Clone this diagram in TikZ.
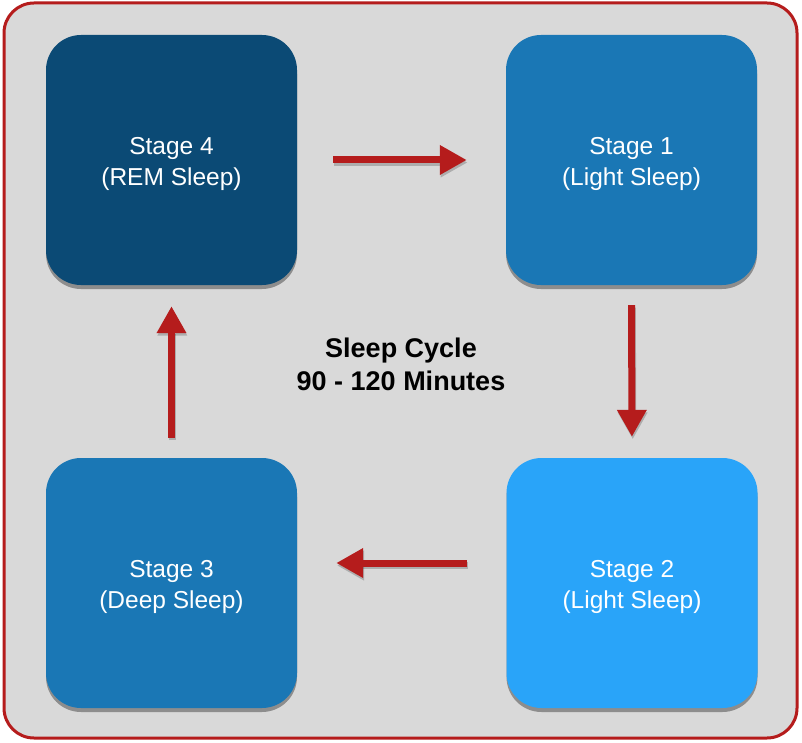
\documentclass[tikz,border=0pt]{standalone}
\usepackage{fontspec}
\setmainfont{Liberation Sans}
\usetikzlibrary{shadows,arrows.meta}
\definecolor{framered}{HTML}{B51C1C}
\definecolor{bggray}{HTML}{D9D9D9}
\definecolor{darkblue}{HTML}{0B4A75}
\definecolor{midblue}{HTML}{1A77B5}
\definecolor{lightblue}{HTML}{29A4F9}
\definecolor{arrowred}{HTML}{B51C1C}
\newcommand{\stagetext}[2]{\raisebox{-4pt}[\height][\depth]{\parbox{220pt}{\centering #1\\#2}}}
\tikzset{
  stagebox/.style={rectangle, rounded corners=35pt, minimum width=251pt, minimum height=250pt,
    text=white, inner sep=0pt,
    font=\fontsize{24.5}{31}\selectfont,
    drop shadow={shadow xshift=0pt, shadow yshift=-4pt, opacity=0.35, fill=black}},
  cyclearrow/.style={line width=7pt, arrowred, -{Triangle[length=27pt,width=28pt]}},
  arrowshadow/.style={line width=7pt, black, opacity=0.2, -{Triangle[length=27pt,width=28pt]},
    transform canvas={shift={(0.8pt,-2.5pt)}}},
}
\begin{document}
\begin{tikzpicture}[x=1pt,y=-1pt]
\useasboundingbox (0,0) rectangle (802,743);
\fill[white] (0,0) rectangle (802,743);
\draw[framered, line width=3pt, fill=bggray, rounded corners=30pt] (4,3) rectangle (797,738);

\node[stagebox, fill=darkblue] (s4) at (171.5,160) {\stagetext{Stage 4}{(REM Sleep)}};
\node[stagebox, fill=midblue] (s1) at (631.5,160) {\stagetext{Stage 1}{(Light Sleep)}};
\node[stagebox, fill=lightblue] (s2) at (632,583) {\stagetext{Stage 2}{(Light Sleep)}};
\node[stagebox, fill=midblue] (s3) at (171.5,583) {\stagetext{Stage 3}{(Deep Sleep)}};

\node[font=\bfseries\fontsize{27}{33}\selectfont, align=center] (title) at (401,364) {Sleep Cycle\\90 - 120 Minutes};

% shadows of arrows
\draw[arrowshadow, shorten <=36pt, shorten >=39pt] (s4.east) -- (s1.west);
\draw[arrowshadow, shorten <=20pt, shorten >=21pt] (s1.south) -- (s2.north);
\draw[arrowshadow, shorten <=39pt, shorten >=39pt] ([yshift=20pt]s2.west) -- ([yshift=20pt]s3.east);
\draw[arrowshadow, shorten <=20pt, shorten >=21pt] (s3.north) -- (s4.south);
% arrows
\draw[cyclearrow, shorten <=36pt, shorten >=39pt] (s4.east) -- (s1.west);
\draw[cyclearrow, shorten <=20pt, shorten >=21pt] (s1.south) -- (s2.north);
\draw[cyclearrow, shorten <=39pt, shorten >=39pt] ([yshift=20pt]s2.west) -- ([yshift=20pt]s3.east);
\draw[cyclearrow, shorten <=20pt, shorten >=21pt] (s3.north) -- (s4.south);
\end{tikzpicture}
\end{document}
